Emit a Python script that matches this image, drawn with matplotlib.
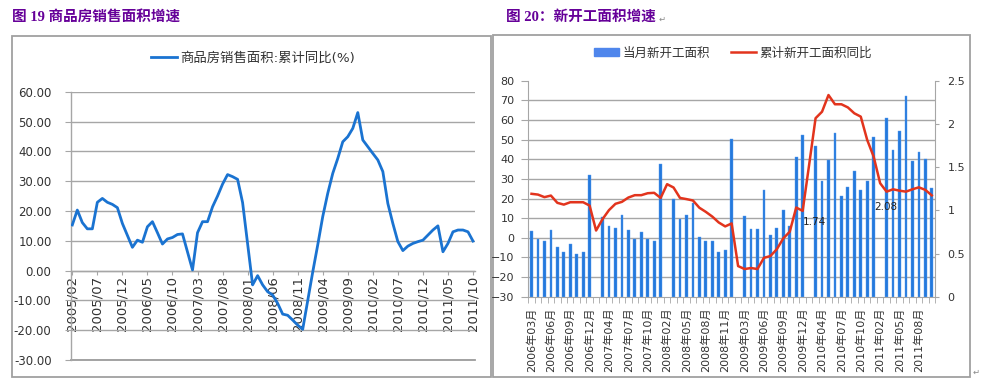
import numpy as np
import pandas as pd
import matplotlib
matplotlib.use('Agg')
import matplotlib.pyplot as plt
from matplotlib.patches import Rectangle, Patch
from matplotlib.lines import Line2D
from matplotlib.ticker import FuncFormatter

plt.rcParams['font.family'] = ['DejaVu Sans', 'Noto Sans CJK SC']

# ---------------- Figure 19 data ----------------
sales_months = [f"{p.year}/{p.month:02d}" for p in pd.period_range('2005-02', '2011-10', freq='M')]
sales_yoy = [
    15.3, 20.3, 16.1, 14.0, 14.0, 22.9, 24.2, 22.9, 22.2, 21.1, 15.8,      # 2005/02-12
    None, 7.8, 10.2, 9.5, 14.7, 16.4, 12.7, 8.9, 10.6, 11.1, 12.1, 12.3,   # 2006
    None, 0.2, 12.7, 16.4, 16.4, 21.4, 25.0, 29.0, 32.2, 31.5, 30.6, 22.8, # 2007
    None, -4.8, -1.7, -4.8, -7.1, -8.2, -11.0, -14.6, -15.0, -16.6, -18.3, -19.7,  # 2008
    None, -0.5, 8.6, 18.1, 25.9, 32.6, 37.6, 43.2, 44.9, 47.7, 53.0, 43.8, # 2009
    None, 39.3, 37.1, 33.2, 22.5, 15.8, 9.7, 6.7, 8.2, 9.1, 9.7, 10.2,     # 2010
    None, 13.6, 15.0, 6.3, 9.1, 13.0, 13.6, 13.6, 13.0, 9.9,               # 2011/01-10
]
sales_label = '商品房销售面积:累计同比(%)'
sales_yticks = list(range(-30, 61, 10))

# ---------------- Figure 20 data ----------------
ns_months = [f"{p.year}年{p.month:02d}月" for p in pd.period_range('2006-03', '2011-10', freq='M')
             if p.month != 1]
ns_month_area = [
    0.76, 0.67, 0.64, 0.77, 0.57, 0.52, 0.61, 0.50, 0.52, 1.41,            # 2006/03-12
    None, 0.92, 0.82, 0.80, 0.94, 0.77, 0.67, 0.75, 0.67, 0.65, 1.54,      # 2007
    None, 1.13, 0.90, 0.95, 1.08, 0.69, 0.64, 0.64, 0.52, 0.54, 1.82,      # 2008
    None, 0.93, 0.78, 0.78, 1.23, 0.71, 0.80, 1.00, 0.82, 1.62, 1.87,      # 2009
    None, 1.74, 1.34, 1.58, 1.90, 1.17, 1.27, 1.46, 1.23, 1.34, 1.85,      # 2010
    None, 2.07, 1.70, 1.92, 2.32, 1.57, 1.67, 1.59, 1.26,                  # 2011
]
ns_cum_yoy = [
    22.4, 22.0, 20.7, 21.5, 17.8, 16.9, 18.1, 18.1, 18.1, 16.4,
    3.7, 9.5, 14.1, 17.3, 18.3, 20.5, 21.7, 21.7, 22.7, 22.9, 20.3,
    27.3, 25.6, 20.3, 19.7, 19.0, 15.3, 13.2, 10.8, 7.8, 5.8, 7.3,
    -14.4, -15.9, -15.4, -15.9, -10.2, -9.3, -5.8, -0.3, 3.1, 15.4, 13.7,
    37.1, 60.9, 64.2, 72.7, 68.0, 68.0, 66.4, 63.4, 61.7, 49.8, 41.3,
    27.8, 23.5, 24.7, 24.0, 23.5, 24.7, 25.7, 24.4, 21.6,
]
ns_janfeb_labels = {'2010年02月': 1.74, '2011年02月': 2.08}
ns_bar_label = '当月新开工面积'
ns_line_label = '累计新开工面积同比'
ns_left_ticks = list(range(-30, 81, 10))
ns_right_ticks = [0, 0.5, 1, 1.5, 2, 2.5]

# ---------------- layout helpers ----------------
W, H = 983, 384
fig = plt.figure(figsize=(W / 100, H / 100), dpi=100)


def rect(l, t, r, b):
    return [l / W, 1 - b / H, (r - l) / W, (b - t) / H]


GRID = '#a6a6a6'
TXT = '#333333'
PURPLE = '#660099'

# frames
for (l, t, r, b) in [(12, 36, 491, 377), (493, 35, 970, 377)]:
    fig.patches.append(Rectangle((l / W, 1 - b / H), (r - l) / W, (b - t) / H,
                                 transform=fig.transFigure, fill=False,
                                 edgecolor='#a0a0a0', lw=1.3))

# titles
fig.text(12 / W, 1 - 16.5 / H, '图 19 商品房销售面积增速', color=PURPLE, fontsize=10.5,
         fontweight='bold', va='center', ha='left',
         family=['Liberation Serif', 'Noto Sans CJK SC'])
fig.text(506 / W, 1 - 16.5 / H, '图 20：新开工面积增速', color=PURPLE, fontsize=10.5,
         fontweight='bold', va='center', ha='left',
         family=['Liberation Serif', 'Noto Sans CJK SC'])
fig.text(659 / W, 1 - 19 / H, '↵', color='#888888', fontsize=6, va='center', ha='left',
         family=['DejaVu Sans'])
fig.text(973 / W, 1 - 372 / H, '↵', color='#888888', fontsize=6, va='center', ha='left',
         family=['DejaVu Sans'])

# ---------------- Figure 19 ----------------
ax1 = fig.add_axes(rect(71, 91.7, 475, 360))
ax1.spines['top'].set_visible(False)
ax1.spines['right'].set_visible(False)
ax1.spines['bottom'].set_position(('data', 0))
for s in ['left', 'bottom']:
    ax1.spines[s].set_color(GRID)
    ax1.spines[s].set_linewidth(1.0)

xs = np.arange(len(sales_months))
ys = np.array([np.nan if v is None else v for v in sales_yoy], dtype=float)
ok = ~np.isnan(ys)
ax1.plot(xs[ok], ys[ok], color='#1a73d1', lw=2.0, label=sales_label, zorder=3)
ax1.set_xlim(-0.26, len(sales_months) - 1 + 0.4)
ax1.set_ylim(sales_yticks[0], sales_yticks[-1])
ax1.set_yticks(sales_yticks)
ax1.yaxis.set_major_formatter(FuncFormatter(lambda v, p: f"{v:.2f}"))
ax1.set_xticks(xs[::5])
ax1.set_xticklabels(sales_months[::5])
ax1.yaxis.grid(True, color=GRID, lw=1.0)
ax1.axhline(sales_yticks[0], color='#9c9c9c', lw=1.3, clip_on=False, zorder=2)
ax1.set_axisbelow(True)
ax1.tick_params(axis='y', length=4, color=GRID, labelsize=8.5, labelcolor=TXT, pad=10)
ax1.tick_params(axis='x', length=3, color=GRID, labelsize=9.5, labelcolor=TXT, pad=1,
                labelrotation=90)
leg1 = ax1.legend(loc='center', bbox_to_anchor=(253 / W, 1 - 58 / H),
                  bbox_transform=fig.transFigure, frameon=False, fontsize=9.6,
                  handlelength=1.9, handletextpad=0.25, borderpad=0)
for t in leg1.get_texts():
    t.set_color(TXT)

# ---------------- Figure 20 ----------------
axL = fig.add_axes(rect(528.3, 80.7, 935, 296.7))
axB = axL.twinx()
axL.set_zorder(2)
axB.set_zorder(1)
axL.patch.set_visible(False)

k = np.arange(len(ns_months))
bars = np.array([np.nan if v is None else v for v in ns_month_area], dtype=float)
bok = ~np.isnan(bars)
axB.bar(k[bok], bars[bok], width=0.42, color='#2479dc', edgecolor='#5b9cf0', lw=0.3,
        label=ns_bar_label)
axL.plot(k, ns_cum_yoy, color='#e2341d', lw=1.8, label=ns_line_label)

for m, v in ns_janfeb_labels.items():
    i = ns_months.index(m)
    axB.text(i + 0.9, v / 2, f"{v:.2f}", ha='center', va='center', fontsize=7.5, color='#222222')

axL.set_xlim(-0.5, len(ns_months) - 0.5)
axL.set_ylim(ns_left_ticks[0], ns_left_ticks[-1])
axB.set_ylim(ns_right_ticks[0], ns_right_ticks[-1])
axL.set_yticks(ns_left_ticks)
axB.set_yticks(ns_right_ticks)
axB.yaxis.set_major_formatter(FuncFormatter(lambda v, p: f"{v:g}"))

# gridlines at the left-axis ticks, drawn behind the bars
lo, hi = ns_left_ticks[0], ns_left_ticks[-1]
grid_pos = [(t - lo) / (hi - lo) * ns_right_ticks[-1] for t in ns_left_ticks]
axB.set_yticks(grid_pos, minor=True)
axB.yaxis.grid(True, which='minor', color=GRID, lw=1.0)
axB.tick_params(axis='y', which='minor', length=0)
axB.set_axisbelow(True)

axL.set_xticks(k[::3])
axL.set_xticklabels(ns_months[::3], rotation=90)
axL.set_xticks(np.arange(-0.5, len(ns_months), 1), minor=True)
axL.tick_params(axis='x', which='major', length=0, pad=8, labelsize=8, labelcolor=TXT)
axL.tick_params(axis='x', which='minor', length=4, color=GRID)
axL.tick_params(axis='y', length=5, color=GRID, labelsize=8, labelcolor=TXT, pad=5)
axB.tick_params(axis='y', which='major', length=3, color=GRID, labelsize=8, labelcolor=TXT, pad=6)

for s in ['top', 'right']:
    axL.spines[s].set_visible(False)
for s in ['top', 'left', 'bottom']:
    axB.spines[s].set_visible(False)
axL.spines['left'].set_color(GRID)
axL.spines['bottom'].set_color(GRID)
axB.spines['right'].set_color(GRID)

handles = [Patch(facecolor='#4f86ec', edgecolor='#4f86ec'),
           Line2D([0], [0], color='#e2341d', lw=1.8)]
leg2 = fig.legend(handles, [ns_bar_label, ns_line_label], loc='center',
                  bbox_to_anchor=(733 / W, 1 - 53 / H), frameon=False, ncol=2,
                  fontsize=9, handlelength=2.0, handleheight=0.55, handletextpad=0.25,
                  columnspacing=1.7, borderpad=0)
for t in leg2.get_texts():
    t.set_color(TXT)

fig.savefig('out.png', dpi=100, facecolor='white')
